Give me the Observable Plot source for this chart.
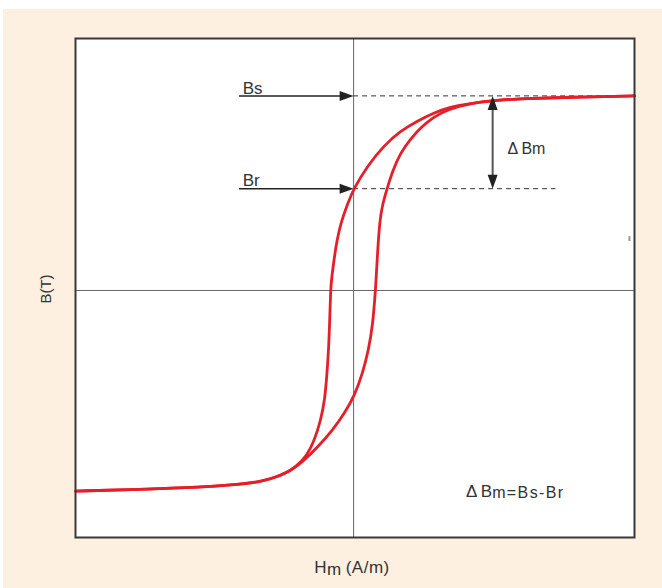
<!DOCTYPE html>
<html><head><meta charset="utf-8">
<script src="https://cdn.jsdelivr.net/npm/d3@7"></script>
<script src="https://cdn.jsdelivr.net/npm/@observablehq/plot@0.6"></script>
<style>
html,body{margin:0;padding:0;background:#fff;}
#bg{position:absolute;left:3px;top:9px;width:659px;height:579px;background:#fdf0e1;}
#chart{position:absolute;left:0;top:0;}
</style></head><body><div id="bg"></div><div id="chart"></div>
<script>
// Descending (upper) branch, from positive saturation to negative
const H_desc = [1.0, 0.808, 0.594, 0.523, 0.463, 0.406, 0.345, 0.285, 0.228, 0.167, 0.107, 0.050, 0.0, -0.021, -0.043, -0.060, -0.071, -0.078, -0.082, -0.085, -0.089, -0.096, -0.103, -0.117, -0.139, -0.167, -0.206, -0.253, -0.331, -0.438, -0.544, -0.722, -0.989];
const B_desc = [0.78, 0.776, 0.768, 0.764, 0.756, 0.748, 0.736, 0.712, 0.68, 0.64, 0.58, 0.50, 0.408, 0.348, 0.28, 0.20, 0.112, 0.05, 0.0, -0.12, -0.24, -0.352, -0.44, -0.52, -0.60, -0.664, -0.708, -0.74, -0.768, -0.78, -0.788, -0.796, -0.804];
// Ascending (lower) branch, from negative saturation to positive
const H_asc = [-0.989, -0.722, -0.544, -0.438, -0.331, -0.278, -0.224, -0.178, -0.125, -0.075, -0.032, 0.004, 0.032, 0.053, 0.068, 0.078, 0.085, 0.093, 0.103, 0.117, 0.139, 0.167, 0.203, 0.238, 0.281, 0.331, 0.416, 0.523, 0.594, 0.808, 1.0];
const B_asc = [-0.804, -0.796, -0.788, -0.78, -0.768, -0.748, -0.724, -0.684, -0.624, -0.56, -0.492, -0.42, -0.332, -0.24, -0.14, 0.0, 0.148, 0.28, 0.344, 0.40, 0.48, 0.552, 0.608, 0.652, 0.692, 0.724, 0.752, 0.764, 0.768, 0.776, 0.78];
const Bs = 0.78;   // saturation flux density
const Br = 0.408;  // residual flux density
const labels = ["Bs", "Br", "Δ\u2009Bm"];
const formula = ["Δ\u2009B", "m=Bs-Br"];
const xTitle = ["H", "m", "\u2009(A/m)"];
const yTitle = "B(T)";

const upper = H_desc.map((h, i) => ({H: h, B: B_desc[i]}));
const lower = H_asc.map((h, i) => ({H: h, B: B_asc[i]}));

const headSym = {draw(ctx) { ctx.moveTo(0, 0); ctx.lineTo(5, 14); ctx.lineTo(-5, 14); ctx.closePath(); }};
const red = "#e61e2a";
const ink = "#222";
const font = "'Liberation Sans', Arial, Helvetica, sans-serif";

const chart = Plot.plot({
  width: 662, height: 588,
  marginLeft: 75, marginRight: 28, marginTop: 38, marginBottom: 51,
  style: {background: "transparent", fontFamily: font, overflow: "visible"},
  x: {domain: [-0.99, 1.0], axis: null},
  y: {domain: [-0.99, 1.01], axis: null},
  marks: [
    Plot.frame({fill: "#fff", stroke: "none"}),
    Plot.ruleX([0], {stroke: "#666", strokeWidth: 1}),
    Plot.ruleY([0], {stroke: "#666", strokeWidth: 1}),
    Plot.ruleY([Bs], {x1: 0, x2: 1.0, stroke: "#333", strokeDasharray: "5,4", strokeWidth: 1}),
    Plot.ruleY([Br], {x1: 0, x2: 0.72, stroke: "#333", strokeDasharray: "5,4", strokeWidth: 1}),
    Plot.line(upper, {x: "H", y: "B", stroke: red, strokeWidth: 2.8, curve: "basis"}),
    Plot.line(lower, {x: "H", y: "B", stroke: red, strokeWidth: 2.8, curve: "basis"}),
    // left arrows
    Plot.ruleY([Bs, Br], {x1: -0.406, x2: -0.02, stroke: ink, strokeWidth: 1.5}),
    Plot.dot([Bs, Br], {x: () => 0, y: d => d, symbol: headSym, rotate: 90, fill: ink, stroke: "none", r: 5}),
    Plot.text([Bs], {x: () => -0.395, y: d => d, text: () => labels[0], textAnchor: "start", lineAnchor: "bottom", dy: -2, fontSize: 17, fill: "#333"}),
    Plot.text([Br], {x: () => -0.395, y: d => d, text: () => labels[1], textAnchor: "start", lineAnchor: "bottom", dy: -3, fontSize: 17, fill: "#333"}),
    // delta Bm double arrow
    Plot.ruleX([0.495], {y1: Br + 0.04, y2: Bs - 0.04, stroke: "#555", strokeWidth: 2}),
    Plot.dot([Bs], {x: () => 0.495, y: d => d, symbol: headSym, rotate: 0, fill: ink, stroke: "none", r: 5}),
    Plot.dot([Br], {x: () => 0.495, y: d => d, symbol: headSym, rotate: 180, fill: ink, stroke: "none", r: 5}),
    Plot.text([(Bs + Br) / 2], {x: () => 0.548, y: d => d, text: () => labels[2], textAnchor: "start", lineAnchor: "middle", dy: 7, fontSize: 16, fill: "#333"}),
    // small tick at right
    Plot.ruleX([0.982], {y1: 0.196, y2: 0.216, stroke: "#999", strokeWidth: 2}),
    Plot.frame({stroke: "#383838", strokeWidth: 2})
  ]
});
document.getElementById("chart").appendChild(chart);

const svg = d3.select(chart);
const sx = chart.scale("x"), sy = chart.scale("y");
// formula
const f = svg.append("text")
  .attr("x", sx.apply(0.402)).attr("y", sy.apply(-0.828))
  .attr("text-anchor", "start")
  .attr("fill", "#333").attr("font-family", font).attr("font-size", 17);
f.append("tspan").text(formula[0]);
f.append("tspan").attr("font-size", 16).attr("letter-spacing", 1.4).attr("dy", 1.5).text(formula[1]);
// x title
const xt = svg.append("text")
  .attr("x", 352).attr("y", 573).attr("text-anchor", "middle")
  .attr("fill", "#333").attr("font-family", font).attr("font-size", 17).attr("letter-spacing", 0.5);
xt.append("tspan").text(xTitle[0]);
xt.append("tspan").attr("dy", 2).text(xTitle[1]);
xt.append("tspan").attr("dy", -2).text(xTitle[2]);
// y title
svg.append("text")
  .attr("transform", "translate(50.5,289) rotate(-90)")
  .attr("text-anchor", "middle")
  .attr("fill", "#333").attr("font-family", font).attr("font-size", 15)
  .text(yTitle);
</script>
</body></html>
